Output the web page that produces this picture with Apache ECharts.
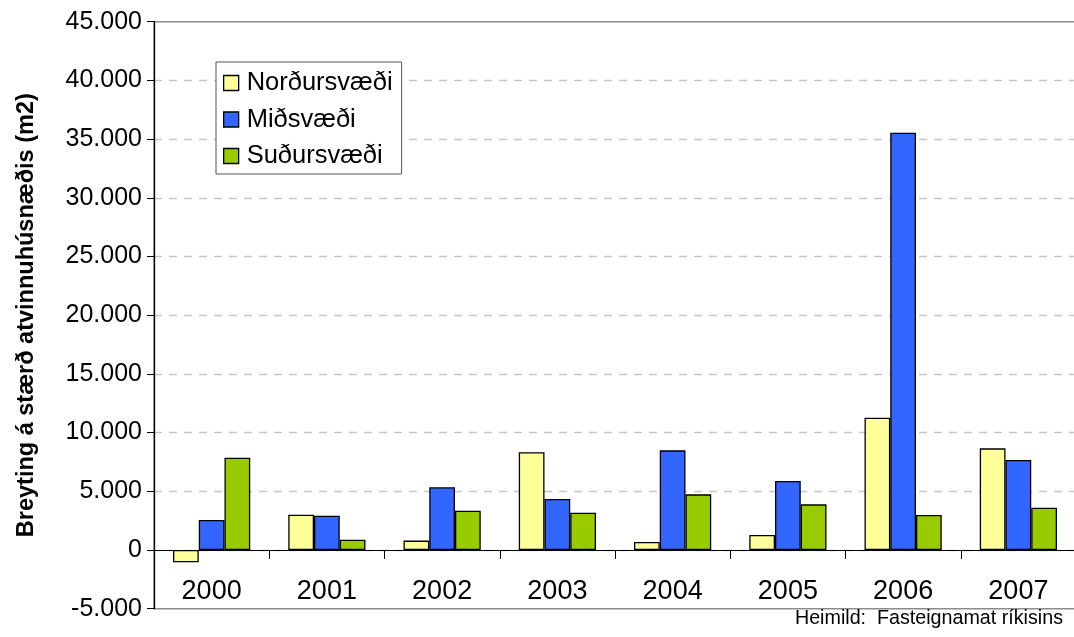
<!DOCTYPE html>
<html>
<head>
<meta charset="utf-8">
<script src="https://cdn.jsdelivr.net/npm/echarts@6/dist/echarts.min.js"></script>
<style>
  html, body { margin: 0; padding: 0; background: #ffffff; }
  #chart { width: 1074px; height: 637px; }
</style>
</head>
<body>
<div id="chart"></div>
<script>
// Change in size of commercial floor space (m2) by area, per year
const years = ['2000', '2001', '2002', '2003', '2004', '2005', '2006', '2007'];
const seriesNames = ['Norðursvæði', 'Miðsvæði', 'Suðursvæði'];
const nordur = [-1050, 3000, 800, 8320, 680, 1280, 11270, 8660];
const midsvaedi = [2560, 2920, 5340, 4340, 8490, 5880, 35550, 7670];
const sudur = [7860, 880, 3350, 3180, 4740, 3890, 2980, 3600];
const barColors = ['#FFFF99', '#3366FF', '#99CC00'];
const yTitle = 'Breyting á stærð atvinnuhúsnæðis (m2)';
const sourceText = 'Heimild:  Fasteignamat ríkisins';

const FONT = '"Liberation Sans", Arial, sans-serif';

// Icelandic-style thousands separator: 45.000
function fmt(v) {
  const s = Math.abs(v).toString().replace(/\B(?=(\d{3})+(?!\d))/g, '.');
  return (v < 0 ? '-' : '') + s;
}

const chart = echarts.init(document.getElementById('chart'), null, { renderer: 'canvas' });

const values = [nordur, midsvaedi, sudur];
const series = seriesNames.map((name, i) => ({
  name: name,
  type: 'bar',
  xAxisIndex: 0,
  data: values[i],
  barGap: '0%',
  barCategoryGap: '33%',
  itemStyle: { color: barColors[i], borderColor: '#000000', borderWidth: 1.3 }
}));

chart.setOption({
  animation: false,
  backgroundColor: '#ffffff',
  textStyle: { fontFamily: FONT },
  grid: {
    left: 154, right: -2, top: 21.7, bottom: 28.3,
    outerBoundsMode: 'none',
    containLabel: false,
    show: true, borderColor: '#8c8c8c', borderWidth: 1.5, backgroundColor: 'transparent'
  },
  legend: {
    orient: 'vertical',
    left: 216, top: 62,
    data: seriesNames,
    icon: 'rect',
    itemWidth: 15, itemHeight: 15,
    itemGap: 10.5,
    padding: [8, 9, 5, 7],
    backgroundColor: '#ffffff',
    borderColor: '#555555',
    borderWidth: 1,
    borderRadius: 0,
    itemStyle: { borderColor: '#000000', borderWidth: 1.3 },
    textStyle: { fontFamily: FONT, fontSize: 25.5, color: '#000000', padding: [0, 0, 0, 3] }
  },
  xAxis: [
    {
      // year labels, sitting just above the bottom edge of the plot
      type: 'category',
      data: years,
      position: 'bottom',
      axisLine: { show: false, onZero: false },
      axisTick: { show: false },
      axisLabel: { fontFamily: FONT, fontSize: 27, color: '#000000', margin: -31, verticalAlign: 'top' },
      splitLine: { show: false }
    },
    {
      // zero baseline with downward ticks between the years
      type: 'category',
      data: years,
      position: 'bottom',
      axisLine: { show: true, onZero: true, lineStyle: { color: '#000000', width: 1.2 } },
      axisTick: { show: true, length: 9, lineStyle: { color: '#000000', width: 1 } },
      axisLabel: { show: false },
      splitLine: { show: false }
    }
  ],
  yAxis: {
    type: 'value',
    min: -5000, max: 45000, interval: 5000,
    name: yTitle,
    nameLocation: 'middle',
    nameRotate: 90,
    nameGap: 115,
    nameTextStyle: { fontFamily: FONT, fontSize: 23.5, fontWeight: 'bold', color: '#000000' },
    axisLine: { show: true, lineStyle: { color: '#000000', width: 1.3 } },
    axisTick: { show: true, length: 7, lineStyle: { color: '#000000' } },
    axisLabel: { fontFamily: FONT, fontSize: 25, color: '#000000', margin: 12, formatter: fmt },
    splitLine: {
      show: true, showMinLine: false, showMaxLine: false,
      lineStyle: { color: '#c6c6c6', type: [8, 7], width: 1.3 }
    }
  },
  graphic: [{
    type: 'text',
    right: 11, top: 609,
    style: { text: sourceText, font: '19.7px ' + FONT, fill: '#000000' }
  }],
  series: series
});
</script>
</body>
</html>
